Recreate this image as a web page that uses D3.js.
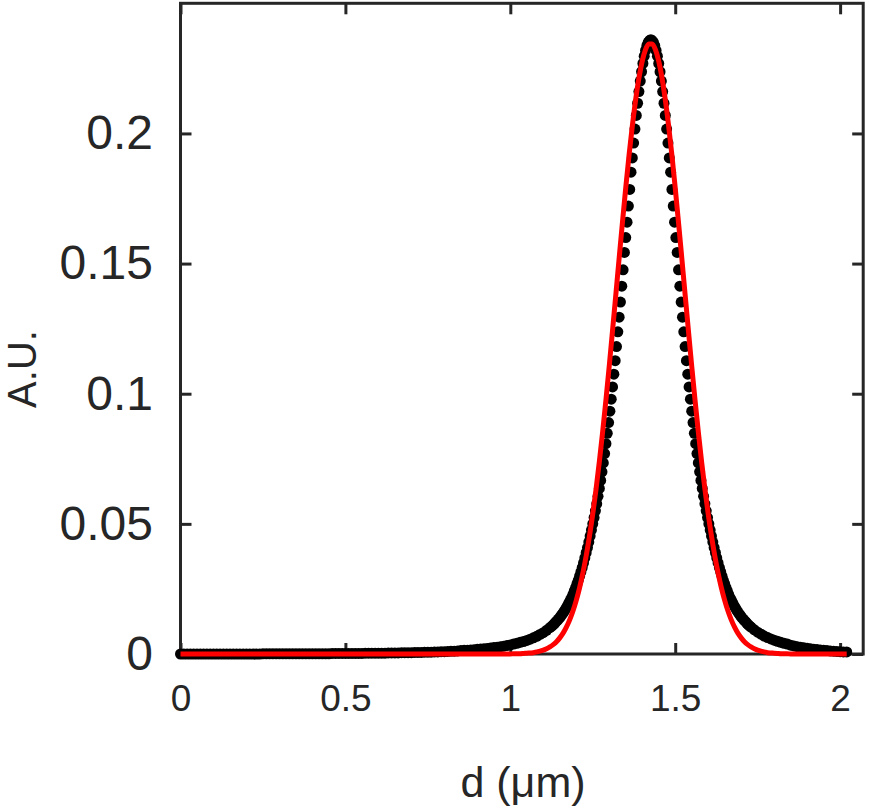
<!DOCTYPE html>
<html><head><meta charset="utf-8">
<script src="https://cdn.jsdelivr.net/npm/d3@7"></script>
<style>body{margin:0;background:#fff}svg{display:block}</style>
</head><body>
<svg id="chart" width="870" height="810"></svg>
<script>
// ---- data ----
const xTicks = [0, 0.5, 1, 1.5, 2];
const xTickLabels = ["0", "0.5", "1", "1.5", "2"];
const yTicks = [0, 0.05, 0.1, 0.15, 0.2];
const yTickLabels = ["0", "0.05", "0.1", "0.15", "0.2"];
const xLabel = "d (\u03bcm)";
const yLabel = "A.U.";

// measured distribution (black dots): d in um
const blackD = [
0,0.01,0.02,0.03,0.04,0.05,0.06,0.07,0.08,0.09,
0.1,0.11,0.12,0.13,0.14,0.15,0.16,0.17,0.18,0.19,
0.2,0.21,0.22,0.23,0.24,0.25,0.26,0.27,0.28,0.29,
0.3,0.31,0.32,0.33,0.34,0.35,0.36,0.37,0.38,0.39,
0.4,0.41,0.42,0.43,0.44,0.45,0.46,0.47,0.48,0.49,
0.5,0.51,0.52,0.53,0.54,0.55,0.56,0.57,0.58,0.59,
0.6,0.61,0.62,0.63,0.64,0.65,0.66,0.67,0.68,0.69,
0.7,0.71,0.72,0.73,0.74,0.75,0.76,0.77,0.78,0.79,
0.8,0.81,0.82,0.83,0.84,0.85,0.86,0.87,0.88,0.89,
0.9,0.91,0.92,0.93,0.94,0.95,0.96,0.97,0.98,0.99,
1,1.01,1.02,1.03,1.04,1.05,1.06,1.07,1.08,1.09,
1.1,1.11,1.12,
1.126,1.13,1.134,1.138,1.142,1.146,1.15,1.154,1.158,1.162,
1.166,1.17,1.174,1.178,1.182,1.186,1.19,1.194,1.198,1.202,
1.206,1.21,1.214,1.218,1.222,1.226,1.23,1.234,1.238,1.242,
1.246,1.25,1.254,1.258,1.262,1.266,1.27,1.274,1.278,1.282,
1.286,1.29,1.294,1.298,1.302,1.306,1.31,1.314,1.318,1.322,
1.326,1.33,1.334,1.338,1.342,1.346,1.35,1.354,1.358,1.362,
1.366,1.37,1.374,1.378,1.382,1.386,1.39,1.394,1.398,1.402,
1.406,1.41,1.414,1.418,1.422,
1.426,
1.43,1.434,1.438,1.442,1.446,1.45,1.454,1.458,1.462,1.466,
1.47,1.474,1.478,1.482,1.486,1.49,1.494,1.498,1.502,1.506,
1.51,1.514,1.518,1.522,1.526,1.53,1.534,1.538,1.542,1.546,
1.55,1.554,1.558,1.562,1.566,1.57,1.574,1.578,1.582,1.586,
1.59,1.594,1.598,1.602,1.606,1.61,1.614,1.618,1.622,1.626,
1.63,1.634,1.638,1.642,1.646,1.65,1.654,1.658,1.662,1.666,
1.67,1.674,1.678,1.682,1.686,1.69,1.694,1.698,1.702,1.706,
1.71,1.714,1.718,1.722,1.726,
1.73,1.74,1.75,1.76,1.77,1.78,1.79,1.8,1.81,1.82,
1.83,1.84,1.85,1.86,1.87,1.88,1.89,1.9,1.91,1.92,
1.93,1.94,1.95,1.96,1.97,1.98,1.99,2,2.01,2.02
];
const blackA = [
0,0,0,0,0,0,0,0,0,0,
0,0,0,0,0,0,0,0,0,0,
0,0,0,0,0,0.0001,0.0001,0.0001,0.0001,0.0001,
0.0001,0.0001,0.0001,0.0001,0.0001,0.0001,0.0001,0.0001,0.0001,0.0001,
0.0001,0.0001,0.0001,0.0001,0.0001,0.0001,0.0002,0.0002,0.0002,0.0002,
0.0002,0.0002,0.0002,0.0002,0.0002,0.0002,0.0003,0.0003,0.0003,0.0003,
0.0003,0.0003,0.0003,0.0004,0.0004,0.0004,0.0004,0.0005,0.0005,0.0005,
0.0005,0.0006,0.0006,0.0006,0.0007,0.0007,0.0007,0.0008,0.0008,0.0009,
0.0009,0.0010,0.0011,0.0011,0.0012,0.0013,0.0014,0.0014,0.0015,0.0016,
0.0018,0.0019,0.0020,0.0021,0.0023,0.0025,0.0026,0.0028,0.0030,0.0033,
0.0035,0.0038,0.0041,0.0045,0.0048,0.0052,0.0057,0.0062,0.0068,0.0075,
0.0082,0.0091,0.0101,
0.0107,0.0112,0.0117,0.0123,0.0128,0.0134,0.0140,0.0147,0.0154,0.0161,
0.0169,0.0178,0.0187,0.0197,0.0207,0.0217,0.0229,0.0242,0.0255,0.0269,
0.0283,0.0299,0.0315,0.0332,0.0350,0.0369,0.0389,0.0409,0.0430,0.0453,
0.0476,0.0500,0.0524,0.0550,0.0577,0.0606,0.0636,0.0667,0.0700,0.0734,
0.0770,0.0808,0.0848,0.0889,0.0933,0.0979,0.1026,0.1075,0.1127,0.1181,
0.1238,0.1294,0.1352,0.1413,0.1476,0.1543,0.1600,0.1659,0.1721,0.1785,
0.1851,0.1906,0.1963,0.2017,0.2069,0.2116,0.2161,0.2201,0.2237,0.2269,
0.2297,0.2319,0.2337,0.2350,0.2357,
0.2360,
0.2357,0.2350,0.2337,0.2319,0.2297,0.2269,0.2237,0.2201,0.2161,0.2116,
0.2069,0.2017,0.1963,0.1906,0.1851,0.1785,0.1721,0.1659,0.1600,0.1543,
0.1476,0.1413,0.1352,0.1294,0.1238,0.1181,0.1127,0.1075,0.1026,0.0979,
0.0933,0.0889,0.0848,0.0808,0.0770,0.0734,0.0700,0.0667,0.0636,0.0606,
0.0577,0.0550,0.0524,0.0500,0.0476,0.0453,0.0430,0.0409,0.0389,0.0369,
0.0350,0.0332,0.0315,0.0299,0.0283,0.0269,0.0255,0.0242,0.0229,0.0217,
0.0207,0.0197,0.0187,0.0178,0.0169,0.0161,0.0154,0.0147,0.0140,0.0134,
0.0128,0.0123,0.0117,0.0112,0.0107,
0.0103,0.0093,0.0084,0.0076,0.0069,0.0063,0.0058,0.0053,0.0049,0.0045,
0.0041,0.0038,0.0034,0.0031,0.0028,0.0026,0.0024,0.0022,0.0020,0.0018,
0.0017,0.0015,0.0014,0.0013,0.0012,0.0011,0.0010,0.0009,0.0008,0.0008
];

// fitted curve (red line)
const fitD = [
0,
0.95,0.96,0.97,0.98,0.99,1,
1.01,1.02,1.03,1.04,1.05,1.06,1.07,1.08,1.09,1.1,
1.11,1.12,1.13,1.14,1.15,1.16,1.17,1.18,1.19,1.2,
1.21,1.22,1.23,1.24,1.25,1.26,1.27,1.28,1.29,1.3,
1.31,1.32,1.33,1.34,1.35,1.36,1.37,1.38,1.39,1.4,
1.41,1.42,1.43,1.44,1.45,1.46,1.47,1.48,1.49,1.5,
1.51,1.52,1.53,1.54,1.55,1.56,1.57,1.58,1.59,1.6,
1.61,1.62,1.63,1.64,1.65,1.66,1.67,1.68,1.69,1.7,
1.71,1.72,1.73,1.74,1.75,1.76,1.77,1.78,1.79,1.8,
1.81,1.82,1.83,1.84,1.85,1.86,1.87,1.88,1.89,1.9,
2.02
];
const fitA = [
0,
0,0,0,0,0,0,
0.0001,0.0001,0.0001,0.0002,0.0003,0.0004,0.0005,0.0008,0.0011,0.0015,
0.0020,0.0027,0.0036,0.0047,0.0062,0.0080,0.0103,0.0131,0.0165,0.0206,
0.0254,0.0311,0.0377,0.0453,0.0538,0.0634,0.0739,0.0854,0.0977,0.1107,
0.1243,0.1381,0.1521,0.1658,0.1791,0.1916,0.2029,0.2129,0.2213,0.2278,
0.2322,0.2344,0.2344,0.2322,0.2278,0.2213,0.2129,0.2029,0.1916,0.1791,
0.1658,0.1521,0.1381,0.1243,0.1107,0.0977,0.0854,0.0739,0.0634,0.0538,
0.0453,0.0377,0.0311,0.0254,0.0206,0.0165,0.0131,0.0103,0.0080,0.0062,
0.0047,0.0036,0.0027,0.0020,0.0015,0.0011,0.0008,0.0005,0.0004,0.0003,
0.0002,0.0001,0.0001,0.0001,0,0,0,0,0,0,
0
];

if (blackD.length !== blackA.length) throw new Error("black length mismatch " + blackD.length + " vs " + blackA.length);
if (fitD.length !== fitA.length) throw new Error("fit length mismatch " + fitD.length + " vs " + fitA.length);

// ---- layout ----
const axisColor = "#262626";
const font = "'Liberation Sans', Arial, Helvetica, sans-serif";
const plot = {left: 180.5, right: 863.2, top: 3.3, bottom: 654};
const x = d3.scaleLinear().domain([0, 2.07]).range([plot.left, plot.right]);
const y = d3.scaleLinear().domain([0, 0.25]).range([plot.bottom, plot.top]);

const svg = d3.select("#chart");
svg.append("rect").attr("width", 870).attr("height", 810).attr("fill", "#fff");

const tickLen = 11;
function styleAxis(g) {
  g.select(".domain").remove();
  g.selectAll(".tick line").attr("stroke", axisColor).attr("stroke-width", 3);
  g.selectAll(".tick text").attr("fill", axisColor).attr("font-family", font);
}
// bottom
svg.append("g").attr("transform", `translate(0,${plot.bottom})`)
  .call(d3.axisBottom(x).tickValues(xTicks).tickSize(-tickLen).tickPadding(30.5)
    .tickFormat((d, i) => xTickLabels[i]))
  .call(styleAxis)
  .call(g => g.selectAll(".tick text").attr("font-size", 37));
// top
svg.append("g").attr("transform", `translate(0,${plot.top})`)
  .call(d3.axisTop(x).tickValues(xTicks).tickSize(-tickLen).tickFormat(""))
  .call(styleAxis);
// left
svg.append("g").attr("transform", `translate(${plot.left},0)`)
  .call(d3.axisLeft(y).tickValues(yTicks).tickSize(-tickLen).tickPadding(27.5)
    .tickFormat((d, i) => yTickLabels[i]))
  .call(styleAxis)
  .call(g => g.selectAll(".tick text").attr("font-size", 48));
// right
svg.append("g").attr("transform", `translate(${plot.right},0)`)
  .call(d3.axisRight(y).tickValues(yTicks).tickSize(-tickLen).tickFormat(""))
  .call(styleAxis);

// box
svg.append("rect")
  .attr("x", plot.left).attr("y", plot.top)
  .attr("width", plot.right - plot.left).attr("height", plot.bottom - plot.top)
  .attr("fill", "none").attr("stroke", axisColor).attr("stroke-width", 3);

// axis titles
svg.append("text").attr("x", 523).attr("y", 797)
  .attr("text-anchor", "middle").attr("font-family", font).attr("font-size", 43)
  .attr("fill", axisColor).text(xLabel);
svg.append("text").attr("transform", "translate(35.5,369) rotate(-90)")
  .attr("text-anchor", "middle").attr("font-family", font).attr("font-size", 40)
  .attr("fill", axisColor).text(yLabel);

// black measured points
const pts = blackD.map((d, i) => ({d, a: blackA[i]}));
svg.append("g").selectAll("circle").data(pts).join("circle")
  .attr("cx", p => x(p.d)).attr("cy", p => y(p.a)).attr("r", 5.5)
  .attr("fill", "#000");

// red fit line
const fit = fitD.map((d, i) => ({d, a: fitA[i]}));
svg.append("path").datum(fit)
  .attr("d", d3.line().x(p => x(p.d)).y(p => y(p.a)).curve(d3.curveMonotoneX))
  .attr("fill", "none").attr("stroke", "#ff0000").attr("stroke-width", 5);
</script>
</body></html>
